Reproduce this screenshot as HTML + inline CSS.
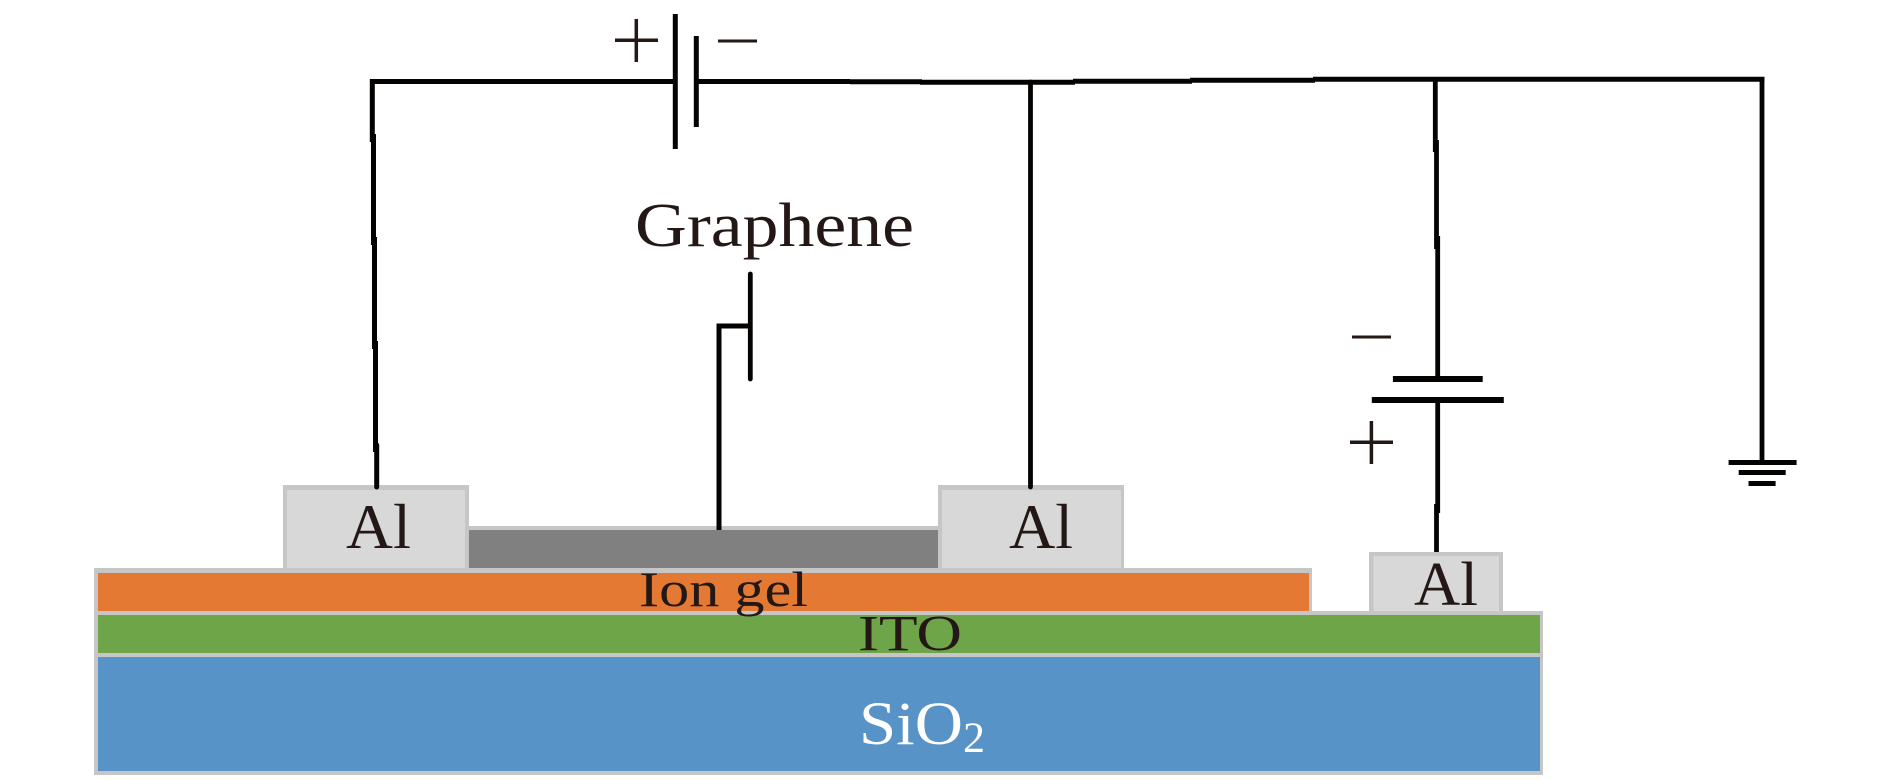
<!DOCTYPE html>
<html><head><meta charset="utf-8"><style>
html,body{margin:0;padding:0;background:#fff;width:1890px;height:780px;overflow:hidden}
svg{display:block}
text{font-family:"Liberation Serif",serif;fill:#231815}
</style></head><body>
<svg width="1890" height="780" viewBox="0 0 1890 780" xmlns="http://www.w3.org/2000/svg">
<rect width="1890" height="780" fill="#fff"/>
<!-- layers -->
<rect x="94" y="611" width="1449" height="164" fill="#c6c6c6"/>
<rect x="94" y="568" width="1218" height="47" fill="#c6c6c6"/>
<rect x="469" y="526" width="469" height="42" fill="#c6c6c6"/>
<rect x="469" y="530" width="469" height="38" fill="#808080"/>
<rect x="98" y="573" width="1211" height="38" fill="#e37933"/>
<rect x="98" y="615" width="1442" height="38" fill="#6ea548"/>
<rect x="98" y="657" width="1442" height="114" fill="#5793c7"/>
<!-- Al pads -->
<rect x="283" y="485" width="186" height="84" fill="#c6c6c6"/>
<rect x="287" y="490" width="178" height="78" fill="#d8d8d8"/>
<rect x="938" y="485" width="186" height="84" fill="#c6c6c6"/>
<rect x="942" y="490" width="179" height="78" fill="#d8d8d8"/>
<rect x="1369" y="552" width="134" height="60" fill="#c6c6c6"/>
<rect x="1373.500" y="556" width="125.500" height="55" fill="#d8d8d8"/>
<!-- wires -->
<g fill="none" stroke="#050301" stroke-width="5" stroke-linecap="butt">
<path d="M370 81.500H675M696 81.500H850"/>
<path d="M850 81.700H922M920 82.300H1075M1073 81.300H1192M1190 80.300H1315M1313 79.300H1764.500"/>
<path d="M372.300 79V142M373.500 134V245M374.500 237V349M375.500 341V452"/>
<path d="M376.700 445V487" stroke-linecap="round"/>
<path d="M1030.500 82V487" stroke-width="4.800" stroke-linecap="round"/>
<path d="M1435.300 80V152M1436.500 140V249M1437.700 236V376M1437.700 403V513M1436.500 504V552" stroke-width="4.800"/>
<path d="M1762 79V462" stroke-width="4.800"/>
<path d="M719 530V326H750.300" stroke-width="5"/>
<path d="M750.300 274V379" stroke-width="4.800" stroke-linecap="round"/>
<path d="M675.300 14V149" stroke-width="5"/>
<path d="M696.300 36V127" stroke-width="5"/>
<path d="M1392.900 379H1482.700M1371.800 400H1503.800" stroke-width="6"/>
<path d="M1728.600 462.500H1796.600M1738.700 472.500H1785.700M1748.500 483.500H1775.600" stroke-width="5"/>
</g>
<!-- plus / minus -->
<g fill="none" stroke="#231815">
<path d="M615 40.300H658M636.300 19V62" stroke-width="3.500"/>
<path d="M718 41H757" stroke-width="3"/>
<path d="M1352 337H1391" stroke-width="3"/>
<path d="M1350 442.300H1393M1371.400 421V464" stroke-width="3.500"/>
</g>
<!-- labels -->
<text x="635" y="246" font-size="62" textLength="279" lengthAdjust="spacingAndGlyphs">Graphene</text>
<text x="346" y="548" font-size="63" textLength="65" lengthAdjust="spacingAndGlyphs">Al</text>
<text x="1009" y="548" font-size="63" textLength="64" lengthAdjust="spacingAndGlyphs">Al</text>
<text x="1414" y="605" font-size="62" textLength="64" lengthAdjust="spacingAndGlyphs">Al</text>
<text x="639" y="606" font-size="50" textLength="169" lengthAdjust="spacingAndGlyphs">Ion gel</text>
<text x="858" y="650.500" font-size="51" textLength="104" lengthAdjust="spacingAndGlyphs">ITO</text>
<text x="859" y="744" font-size="61" textLength="104" lengthAdjust="spacingAndGlyphs" style="fill:#fff">SiO</text>
<text x="963" y="752" font-size="43" textLength="22" lengthAdjust="spacingAndGlyphs" style="fill:#fff">2</text>
</svg>
</body></html>
